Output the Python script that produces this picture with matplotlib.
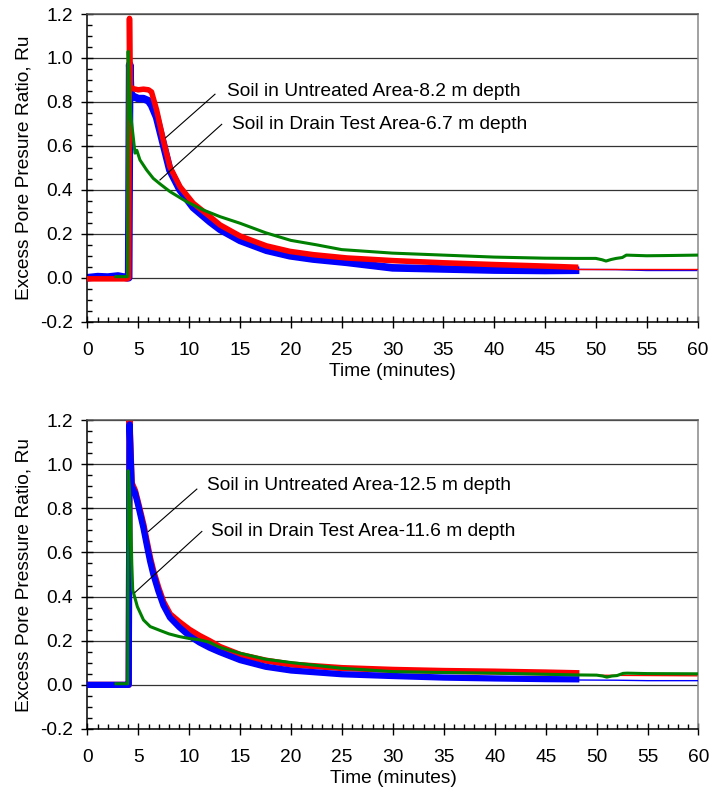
from matplotlib import pyplot as plt
from matplotlib.ticker import MultipleLocator, FormatStrFormatter
import numpy as np

plt.rcParams['font.family'] = ['Liberation Sans', 'DejaVu Sans']
plt.rcParams['font.size'] = 13.8
plt.rcParams['axes.unicode_minus'] = False

# upper chart: 8.2 m (untreated) and 6.7 m (drain test area)
top_t_red = [0, 3.9, 4.05, 4.13, 4.2, 4.5, 5, 5.5, 6, 6.3, 6.8, 7.45, 8.1, 9.1, 10.4,
             12.05, 13.05, 15, 17.6, 19.9, 22.2, 25.5, 30, 35, 40, 45, 48]
top_red = [-0.005, -0.005, 0.0, 1.18, 0.87, 0.86, 0.855, 0.858, 0.855, 0.845, 0.763, 0.627,
           0.505, 0.414, 0.339, 0.278, 0.24, 0.19, 0.145, 0.12, 0.105, 0.09, 0.078, 0.068,
           0.06, 0.053, 0.048]
top_t_blue = [0, 1, 2, 3, 3.9, 4.05, 4.15, 4.25, 4.5, 5, 5.5, 6, 6.3, 6.8, 7.45, 8.1, 9.1,
              10.4, 12.05, 13.05, 15, 17.6, 19.9, 22.2, 25.5, 30, 35, 40, 45, 48]
top_blue = [0.0, 0.005, 0.003, 0.008, 0.0, 0.0, 0.97, 0.84, 0.825, 0.815, 0.815, 0.805,
            0.785, 0.73, 0.61, 0.49, 0.40, 0.32, 0.255, 0.22, 0.17, 0.125, 0.1, 0.085,
            0.07, 0.045, 0.04, 0.035, 0.033, 0.034]
top_t_green = [2.8, 3.95, 4.0, 4.1, 4.3, 4.5, 4.67, 4.85, 5.16, 5.82, 6.47, 7.13, 8.11,
               9.75, 11.4, 13.03, 15, 17.5, 20, 22.5, 25, 30, 35, 40, 45, 48, 50, 50.6,
               51, 51.5, 52, 52.6, 53, 55, 57, 60]
top_green = [0.005, 0.005, 1.03, 0.87, 0.72, 0.64, 0.567, 0.58, 0.536, 0.49, 0.452, 0.427,
             0.392, 0.346, 0.308, 0.278, 0.248, 0.205, 0.17, 0.15, 0.128, 0.112, 0.103,
             0.094, 0.089, 0.088, 0.088, 0.082, 0.076, 0.083, 0.088, 0.092, 0.103, 0.1,
             0.101, 0.103]
top_t_red_tail = [48, 60]
top_red_tail = [0.042, 0.042]
top_t_blue_tail = [48, 52, 55, 60]
top_blue_tail = [0.038, 0.037, 0.033, 0.033]

# lower chart: 12.5 m (untreated) and 11.6 m (drain test area)
bot_t = [0, 3.9, 4.05, 4.13, 4.34, 4.67, 5, 5.5, 5.82, 6.15, 6.47, 6.96, 7.46, 8.1, 9, 10,
         11, 12, 13, 15, 17.5, 20, 25, 30, 35, 40, 45, 48]
bot_red = [0.0, 0.0, 0.0, 1.2, 0.915, 0.88, 0.82, 0.725, 0.65, 0.575, 0.515, 0.44, 0.375,
           0.32, 0.285, 0.25, 0.222, 0.198, 0.172, 0.136, 0.11, 0.092, 0.076, 0.068, 0.063,
           0.06, 0.056, 0.053]
bot_blue = [0.0, 0.0, 0.0, 1.18, 0.9, 0.87, 0.81, 0.71, 0.635, 0.56, 0.5, 0.425, 0.36,
            0.305, 0.262, 0.222, 0.192, 0.168, 0.148, 0.112, 0.082, 0.065, 0.048, 0.04,
            0.033, 0.029, 0.026, 0.025]
bot_t_green = [2.8, 3.95, 4.0, 4.1, 4.25, 4.35, 4.44, 4.9, 5.5, 6.16, 7.15, 8, 9, 10, 11,
               12, 12.5, 13, 15, 17.5, 20, 25, 30, 35, 40, 45, 48, 50, 50.6, 51, 51.5, 52,
               52.6, 53, 55, 60]
bot_green = [0.005, 0.005, 0.97, 0.9, 0.75, 0.55, 0.43, 0.354, 0.294, 0.264, 0.246, 0.231,
             0.219, 0.21, 0.204, 0.193, 0.181, 0.17, 0.143, 0.116, 0.101, 0.075, 0.06,
             0.056, 0.053, 0.048, 0.045, 0.044, 0.04, 0.035, 0.04, 0.042, 0.052, 0.053,
             0.051, 0.05]
bot_t_red_tail = [48, 60]
bot_red_tail = [0.044, 0.041]
bot_t_blue_tail = [48, 52, 55, 60]
bot_blue_tail = [0.022, 0.021, 0.019, 0.019]

labels_top = ['Soil in Untreated Area-8.2 m depth', 'Soil in Drain Test Area-6.7 m depth']
labels_bot = ['Soil in Untreated Area-12.5 m depth', 'Soil in Drain Test Area-11.6 m depth']
ylabel_top = 'Excess Pore Presure Ratio, Ru'
ylabel_bot = 'Excess Pore Pressure Ratio, Ru'

RED, BLUE, GREEN = '#ff0000', '#0000ff', '#008000'


def style_axes(ax, ylabel):
    ax.set_xlim(0, 60)
    ax.set_ylim(-0.2, 1.2)
    ax.set_xticks(np.arange(0, 61, 5))
    ax.set_yticks(np.arange(-0.2, 1.21, 0.2))
    ax.xaxis.set_minor_locator(MultipleLocator(1))
    ax.yaxis.set_minor_locator(MultipleLocator(0.05))
    ax.yaxis.set_major_formatter(FormatStrFormatter('%.1f'))
    ax.tick_params(which='major', direction='inout', length=8, width=1, color='black')
    ax.tick_params(axis='x', which='major', pad=10.5)
    ax.tick_params(axis='y', which='major', pad=6.5)
    ax.tick_params(which='minor', direction='in', length=3.5, width=1, color='black')
    ax.grid(axis='y', which='major', color='#333333', linewidth=0.9)
    ax.set_axisbelow(True)
    ax.spines['left'].set_color('black')
    ax.spines['bottom'].set_color('black')
    ax.spines['top'].set_color('#555555')
    ax.spines['right'].set_color('#888888')
    for s in ax.spines.values():
        s.set_linewidth(1.1)
    ax.set_xlabel('Time (minutes)', labelpad=3)
    ax.set_ylabel(ylabel, labelpad=5)


def leader(ax, text, xy_text, xy_line):
    ax.text(xy_text[0], xy_text[1], text, ha='left', va='baseline', zorder=6)
    ax.plot([xy_line[0], xy_line[2]], [xy_line[1], xy_line[3]], color='black', lw=0.8, zorder=6)


fig = plt.figure(figsize=(7.09, 7.91), dpi=100)

ax1 = fig.add_axes([0.1234, 0.5933, 0.8604, 0.389])
ax1.plot(top_t_blue, top_blue, color=BLUE, lw=5.5, solid_joinstyle='round', zorder=2)
ax1.plot(top_t_red, top_red, color=RED, lw=4, solid_joinstyle='round', zorder=3)
ax1.plot(top_t_blue_tail, top_blue_tail, color=BLUE, lw=1, zorder=2)
ax1.plot(top_t_red_tail, top_red_tail, color=RED, lw=1, zorder=3)
ax1.plot(top_t_green, top_green, color=GREEN, lw=2.2, solid_joinstyle='round', zorder=4)
leader(ax1, labels_top[0], (13.69, 0.826), (12.54, 0.835, 7.69, 0.637))
leader(ax1, labels_top[1], (14.24, 0.678), (13.2, 0.698, 7.13, 0.445))
style_axes(ax1, ylabel_top)

ax2 = fig.add_axes([0.1234, 0.0784, 0.8617, 0.3906])
ax2.plot(bot_t, bot_red, color=RED, lw=4.5, solid_joinstyle='round', zorder=2)
ax2.plot(bot_t, bot_blue, color=BLUE, lw=4.5, solid_joinstyle='round', zorder=3)
ax2.plot(bot_t_red_tail, bot_red_tail, color=RED, lw=1, zorder=2)
ax2.plot(bot_t_blue_tail, bot_blue_tail, color=BLUE, lw=1, zorder=3)
ax2.plot(bot_t_green, bot_green, color=GREEN, lw=2.2, solid_joinstyle='round', zorder=4)
leader(ax2, labels_bot[0], (11.72, 0.885), (10.74, 0.887, 5.98, 0.695))
leader(ax2, labels_bot[1], (12.11, 0.673), (11.23, 0.695, 4.67, 0.419))
style_axes(ax2, ylabel_bot)

fig.savefig('out.png', dpi=100)
